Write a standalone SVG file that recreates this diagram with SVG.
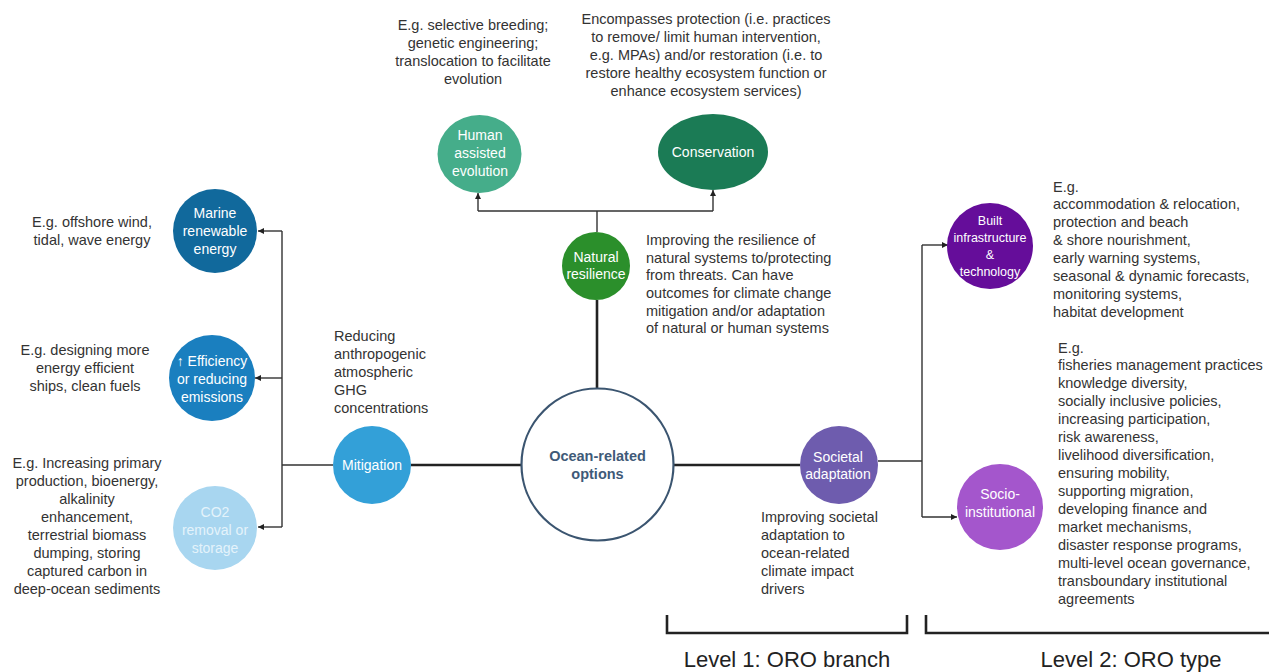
<svg xmlns="http://www.w3.org/2000/svg" width="1269" height="672" viewBox="0 0 1269 672">
<style>
text{font-family:"Liberation Sans",Arial,sans-serif;dominant-baseline:central}
.d{font-size:14.5px;fill:#333}
.c{text-anchor:middle}
.n{font-size:14px;fill:#fff;text-anchor:middle}
.thin{stroke:#333;stroke-width:1.4;fill:none}
.thick{stroke:#222;stroke-width:2.6;fill:none}
.lvl{font-size:22px;fill:#222;text-anchor:middle}
</style>
<defs>
<marker id="ah" viewBox="0 0 10 10" refX="10" refY="5" markerWidth="6" markerHeight="6" orient="auto" markerUnits="userSpaceOnUse">
<path d="M0,0 L10,5 L0,10 z" fill="#222"/>
</marker>
</defs>
<rect width="1269" height="672" fill="#fff"/>
<g id="connectors">
<line class="thick" x1="411" y1="465" x2="521" y2="465"/>
<line class="thick" x1="674" y1="465" x2="800" y2="465"/>
<line class="thick" x1="597" y1="300" x2="597" y2="389"/>
<path class="thin" d="M333 465 H282 M282 231 V527"/>
<line class="thin" x1="282" y1="231" x2="258" y2="231" marker-end="url(#ah)"/>
<line class="thin" x1="282" y1="378" x2="255" y2="378" marker-end="url(#ah)"/>
<line class="thin" x1="282" y1="527" x2="258" y2="527" marker-end="url(#ah)"/>
<path class="thin" d="M597 232 V211 M478 211 H713"/>
<line class="thin" x1="478" y1="211" x2="478" y2="193" marker-end="url(#ah)"/>
<line class="thin" x1="713" y1="211" x2="713" y2="190" marker-end="url(#ah)"/>
<path class="thin" d="M878 461 H922 M922 245 V517"/>
<line class="thin" x1="922" y1="245" x2="948" y2="245" marker-end="url(#ah)"/>
<line class="thin" x1="922" y1="517" x2="957" y2="517" marker-end="url(#ah)"/>
</g>
<g id="ocean-related-options">
<circle cx="597.5" cy="464.5" r="76" fill="#fff" stroke="#3b5570" stroke-width="2.2"/>
<text x="597.5" y="456" font-size="14.5" font-weight="bold" fill="#3f5a78" text-anchor="middle">Ocean-related</text>
<text x="597.5" y="474" font-size="14.5" font-weight="bold" fill="#3f5a78" text-anchor="middle">options</text>
</g>
<g id="mitigation">
<circle cx="372" cy="465" r="39" fill="#33a0d8"/>
<text class="n" x="372" y="465">Mitigation</text>
<text class="d" x="334" y="336">Reducing</text>
<text class="d" x="334" y="354">anthropogenic</text>
<text class="d" x="334" y="372">atmospheric</text>
<text class="d" x="334" y="390">GHG</text>
<text class="d" x="334" y="408">concentrations</text>
</g>
<g id="marine-renewable-energy">
<circle cx="215" cy="231" r="42" fill="#11699c"/>
<text class="n" x="215" y="213">Marine</text>
<text class="n" x="215" y="231">renewable</text>
<text class="n" x="215" y="249">energy</text>
<text class="d c" x="92" y="222">E.g. offshore wind,</text>
<text class="d c" x="92" y="240">tidal, wave energy</text>
</g>
<g id="efficiency">
<circle cx="212" cy="378" r="43" fill="#1a7fbf"/>
<text class="n" x="212" y="361">↑ Efficiency</text>
<text class="n" x="212" y="379">or reducing</text>
<text class="n" x="212" y="397">emissions</text>
<text class="d c" x="85" y="350">E.g. designing more</text>
<text class="d c" x="85" y="368">energy efficient</text>
<text class="d c" x="85" y="386">ships, clean fuels</text>
</g>
<g id="co2-removal">
<circle cx="215" cy="528" r="42" fill="#a8d6f0"/>
<text class="n" x="215" y="512" style="fill:#e4f3fb">CO2</text>
<text class="n" x="215" y="530" style="fill:#e4f3fb">removal or</text>
<text class="n" x="215" y="548" style="fill:#e4f3fb">storage</text>
<text class="d c" x="87" y="463">E.g. Increasing primary</text>
<text class="d c" x="87" y="481">production, bioenergy,</text>
<text class="d c" x="87" y="499">alkalinity</text>
<text class="d c" x="87" y="517">enhancement,</text>
<text class="d c" x="87" y="535">terrestrial biomass</text>
<text class="d c" x="87" y="553">dumping, storing</text>
<text class="d c" x="87" y="571">captured carbon in</text>
<text class="d c" x="87" y="589">deep-ocean sediments</text>
</g>
<g id="natural-resilience">
<circle cx="596" cy="266" r="34" fill="#2b8f2b"/>
<text class="n" x="596" y="257">Natural</text>
<text class="n" x="596" y="274">resilience</text>
<text class="d" x="646" y="240">Improving the resilience of</text>
<text class="d" x="646" y="258">natural systems to/protecting</text>
<text class="d" x="646" y="275">from threats. Can have</text>
<text class="d" x="646" y="293">outcomes for climate change</text>
<text class="d" x="646" y="311">mitigation and/or adaptation</text>
<text class="d" x="646" y="328">of natural or human systems</text>
</g>
<g id="human-assisted-evolution">
<ellipse cx="479.5" cy="154" rx="42" ry="39" fill="#45ad8a"/>
<text class="n" x="480" y="135">Human</text>
<text class="n" x="480" y="153">assisted</text>
<text class="n" x="480" y="171">evolution</text>
<text class="d c" x="473" y="25">E.g. selective breeding;</text>
<text class="d c" x="473" y="43">genetic engineering;</text>
<text class="d c" x="473" y="61">translocation to facilitate</text>
<text class="d c" x="473" y="79">evolution</text>
</g>
<g id="conservation">
<ellipse cx="713" cy="152" rx="55" ry="38" fill="#1b7b55"/>
<text class="n" x="713" y="152">Conservation</text>
<text class="d c" x="706" y="19">Encompasses protection (i.e. practices</text>
<text class="d c" x="706" y="37">to remove/ limit human intervention,</text>
<text class="d c" x="706" y="55">e.g. MPAs) and/or restoration (i.e. to</text>
<text class="d c" x="706" y="73">restore healthy ecosystem function or</text>
<text class="d c" x="706" y="91">enhance ecosystem services)</text>
</g>
<g id="societal-adaptation">
<circle cx="839" cy="465" r="39" fill="#6e5cae"/>
<text class="n" x="838" y="457">Societal</text>
<text class="n" x="838" y="474">adaptation</text>
<text class="d" x="761" y="517">Improving societal</text>
<text class="d" x="761" y="535">adaptation to</text>
<text class="d" x="761" y="553">ocean-related</text>
<text class="d" x="761" y="571">climate impact</text>
<text class="d" x="761" y="589">drivers</text>
</g>
<g id="built-infrastructure">
<circle cx="990" cy="246" r="43" fill="#650d9a"/>
<text class="n" x="990" y="221" style="font-size:12.5px">Built</text>
<text class="n" x="990" y="238" style="font-size:12.5px">infrastructure</text>
<text class="n" x="990" y="255" style="font-size:12.5px">&amp;</text>
<text class="n" x="990" y="272" style="font-size:12.5px">technology</text>
<text class="d" x="1053" y="187">E.g.</text>
<text class="d" x="1053" y="204">accommodation &amp; relocation,</text>
<text class="d" x="1053" y="222">protection and beach</text>
<text class="d" x="1053" y="240">&amp; shore nourishment,</text>
<text class="d" x="1053" y="258">early warning systems,</text>
<text class="d" x="1053" y="276">seasonal &amp; dynamic forecasts,</text>
<text class="d" x="1053" y="294">monitoring systems,</text>
<text class="d" x="1053" y="312">habitat development</text>
</g>
<g id="socio-institutional">
<circle cx="1000" cy="507" r="43" fill="#a456cc"/>
<text class="n" x="1000" y="494">Socio-</text>
<text class="n" x="1000" y="512">institutional</text>
<text class="d" x="1058" y="348">E.g.</text>
<text class="d" x="1058" y="365">fisheries management practices</text>
<text class="d" x="1058" y="383">knowledge diversity,</text>
<text class="d" x="1058" y="401">socially inclusive policies,</text>
<text class="d" x="1058" y="419">increasing participation,</text>
<text class="d" x="1058" y="437">risk awareness,</text>
<text class="d" x="1058" y="455">livelihood diversification,</text>
<text class="d" x="1058" y="473">ensuring mobility,</text>
<text class="d" x="1058" y="491">supporting migration,</text>
<text class="d" x="1058" y="509">developing finance and</text>
<text class="d" x="1058" y="527">market mechanisms,</text>
<text class="d" x="1058" y="545">disaster response programs,</text>
<text class="d" x="1058" y="563">multi-level ocean governance,</text>
<text class="d" x="1058" y="581">transboundary institutional</text>
<text class="d" x="1058" y="599">agreements</text>
</g>
<g id="level-1">
<path class="thick" d="M667 615 V633 H907 V615"/>
<text class="lvl" x="787" y="659">Level 1: ORO branch</text>
</g>
<g id="level-2">
<path class="thick" d="M926 615 V633 H1269"/>
<text class="lvl" x="1131" y="659">Level 2: ORO type</text>
</g>
</svg>
